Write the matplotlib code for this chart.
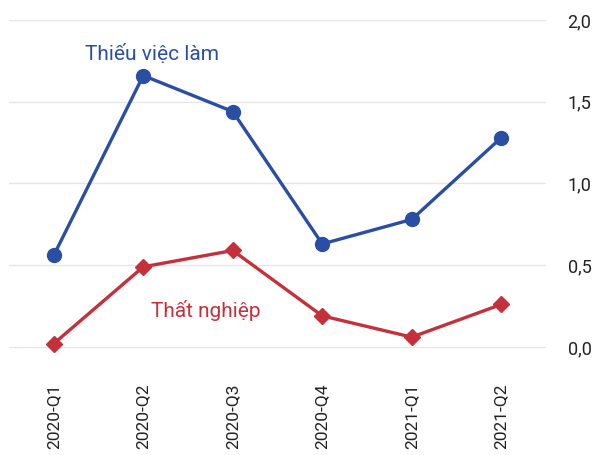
import matplotlib
matplotlib.use("Agg")
import matplotlib.pyplot as plt
from matplotlib.ticker import FuncFormatter

plt.rcParams['font.family'] = ['Roboto', 'DejaVu Sans']

quarters = ["2020-Q1", "2020-Q2", "2020-Q3", "2020-Q4", "2021-Q1", "2021-Q2"]
underemployment = [0.56, 1.66, 1.44, 0.63, 0.78, 1.28]
unemployment = [0.02, 0.49, 0.59, 0.19, 0.06, 0.26]
yticks = [0.0, 0.5, 1.0, 1.5, 2.0]

blue = "#2a4ea3"
red = "#c4313b"

W, H = 595, 455
fig = plt.figure(figsize=(W / 100, H / 100), dpi=100)
left, right, top, bottom = 9, 546, 20, 360
ax = fig.add_axes([left / W, 1 - bottom / H, (right - left) / W, (bottom - top) / H])

x = list(range(len(quarters)))
ax.plot(x, underemployment, color=blue, lw=2.4, marker='o', ms=10, zorder=3)
ax.plot(x, unemployment, color=red, lw=2.4, marker='D', ms=8, zorder=3)

ax.set_xlim(-0.5, 5.5)
ax.set_ylim(-0.08, 2.0)
ax.set_yticks(yticks)
ax.yaxis.set_major_formatter(FuncFormatter(lambda v, p: f"{v:.1f}".replace('.', ',')))
ax.yaxis.tick_right()
ax.tick_params(axis='y', length=0, pad=15.5, labelsize=13, labelcolor='#222222')
ax.set_xticks(x)
ax.set_xticklabels(quarters, rotation=90, fontsize=12.5, color='#222222')
ax.tick_params(axis='x', length=0, pad=17)
for s in ax.spines.values():
    s.set_visible(False)
ax.grid(axis='y', color='#e6e6e6', lw=1)
ax.set_axisbelow(True)

ax.text(1.1, 1.79, "Thiếu việc làm", color=blue, fontsize=15, ha='center', va='center')
ax.text(1.7, 0.22, "Thất nghiệp", color=red, fontsize=15, ha='center', va='center')

fig.savefig("out.png", dpi=100)
